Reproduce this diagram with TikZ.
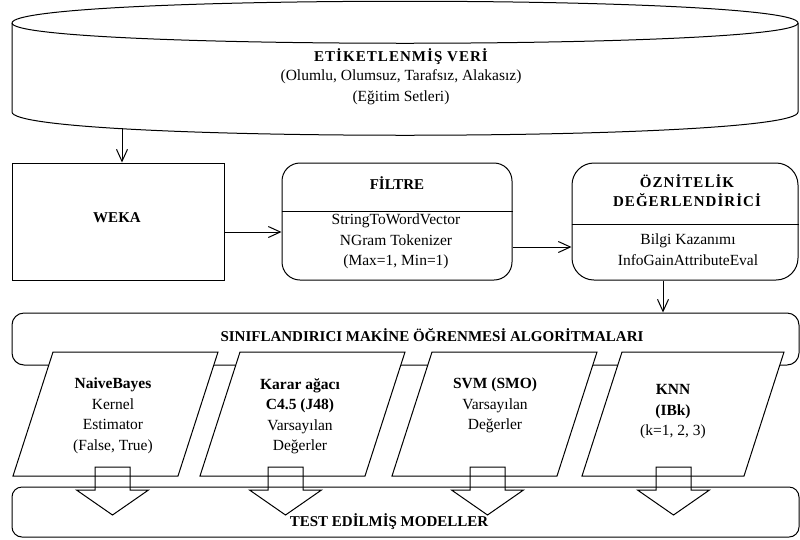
\documentclass[tikz,border=0pt]{standalone}
\usepackage{fontspec}
\setmainfont{Liberation Serif}
\newfontfamily\spacedserif[LetterSpace=7]{Liberation Serif}
\usetikzlibrary{arrows.meta}
\tikzstyle{box}=[draw, line width=1pt]
\tikzstyle{roundbox}=[draw, line width=1pt, rounded corners=18pt]
\tikzstyle{algorithm}=[draw, line width=1pt, fill=white]
\tikzstyle{hollow arrow}=[draw, line width=1pt]
\tikzstyle{flow}=[line width=1pt, -{Straight Barb[length=12pt,width=11pt]}]
\tikzstyle{bodytext}=[align=center, inner sep=0pt, font=\fontsize{15.5}{20.5}\selectfont]
\tikzstyle{heading}=[align=center, inner sep=0pt, font=\fontsize{15}{19.5}\selectfont\bfseries]

\begin{document}
\begin{tikzpicture}[x=1pt, y=-1pt]
      \useasboundingbox (0,0) rectangle (800,539);

      % labelled data (cylinder)
      \draw[box] (12,23) .. controls (12,-6) and (798,-6) .. (798,23)
                 .. controls (798,50) and (12,50) .. (12,23);
      \draw[box] (12,23) -- (12,112) .. controls (12,143) and (798,143) .. (798,112) -- (798,23);
      \node[heading, font=\fontsize{15}{19.5}\spacedserif\bfseries] (data title) at (401,57) {ETİKETLENMİŞ VERİ};
      \node[bodytext] (data) at (401,87) {(Olumlu, Olumsuz, Tarafsız, Alakasız)\\(Eğitim Setleri)};
      \coordinate (data out) at (122,128);

      \node[box, minimum width=212pt, minimum height=117pt] (weka) at (118,221.5) {};
      \node[heading] at (117,218) {WEKA};

      \node[roundbox, minimum width=230pt, minimum height=117pt] (filtre) at (397,221.5) {};
      \draw[line width=1pt] (filtre.west |- 0,211) -- (filtre.east |- 0,211);
      \node[heading] (filtre title) at (397,183) {FİLTRE};
      \node[bodytext] (filtre body) at (396,241.5) {StringToWordVector\\NGram Tokenizer\\(Max=1, Min=1)};

      \node[roundbox, rounded corners=22pt, minimum width=226pt, minimum height=117pt] (oznitelik) at (685,221.5) {};
      \draw[line width=1pt] (oznitelik.west |- 0,224) -- (oznitelik.east |- 0,224);
      \node[heading, font=\fontsize{15}{19.5}\spacedserif\bfseries] (oznitelik title) at (687,190.5) {ÖZNİTELİK\\DEĞERLENDİRİCİ};
      \node[bodytext] (oznitelik body) at (688,249.5) {Bilgi Kazanımı\\InfoGainAttributeEval};

      \draw[flow] (data out) -- (weka.north -| data out);
      \draw[flow] (weka.east |- 0,232) -- (filtre.west |- 0,232);
      \draw[flow] (filtre.east |- 0,247) -- (oznitelik.west |- 0,247);

      \node[roundbox, rounded corners=12pt, minimum width=787pt, minimum height=52pt] (siniflandirici) at (405.5,339) {};
      \node[heading] (siniflandirici title) at (432,335) {SINIFLANDIRICI MAKİNE ÖĞRENMESİ ALGORİTMALARI};
      \draw[flow] (oznitelik.south -| 663,0) -- (siniflandirici.north -| 663,0);

      % algorithms
      \draw[algorithm] (13,476) -- ++(40,-124) -- ++(165,0) -- ++(-40,124) -- cycle;
      \draw[algorithm] (200,476) -- ++(40,-124) -- ++(165,0) -- ++(-40,124) -- cycle;
      \draw[algorithm] (392,476) -- ++(40,-124) -- ++(165,0) -- ++(-40,124) -- cycle;
      \draw[algorithm] (582,476) -- ++(40,-124) -- ++(162,0) -- ++(-40,124) -- cycle;

      \node[bodytext] (nb) at (113,416) {\textbf{NaiveBayes}\\Kernel\\Estimator\\(False, True)};
      \node[bodytext] (j48) at (300,416) {\textbf{Karar ağacı}\\\textbf{C4.5 (J48)}\\Varsayılan\\Değerler};
      \node[bodytext] (svm) at (495,405.5) {\textbf{SVM (SMO)}\\Varsayılan\\Değerler};
      \node[bodytext] (knn) at (673,412) {\textbf{KNN}\\\textbf{(IBk)}\\(k=1, 2, 3)};

      \node[roundbox, rounded corners=10pt, minimum width=787pt, minimum height=50pt] (test) at (405.5,512) {};
      \node[heading] (test title) at (389,522) {TEST EDİLMİŞ MODELLER};

      % hollow arrows into tested models
      \draw[hollow arrow] (95,467) -- ++(35,0) -- ++(0,23) -- ++(18.5,0) -- ++(-36,25) -- ++(-36,-25) -- ++(18.5,0) -- cycle;
      \draw[hollow arrow] (268,467) -- ++(35,0) -- ++(0,23) -- ++(18.5,0) -- ++(-36,25) -- ++(-36,-25) -- ++(18.5,0) -- cycle;
      \draw[hollow arrow] (470,467) -- ++(35,0) -- ++(0,23) -- ++(18.5,0) -- ++(-36,25) -- ++(-36,-25) -- ++(18.5,0) -- cycle;
      \draw[hollow arrow] (656,467) -- ++(35,0) -- ++(0,23) -- ++(18.5,0) -- ++(-36,25) -- ++(-36,-25) -- ++(18.5,0) -- cycle;
    \end{tikzpicture}
\end{document}
